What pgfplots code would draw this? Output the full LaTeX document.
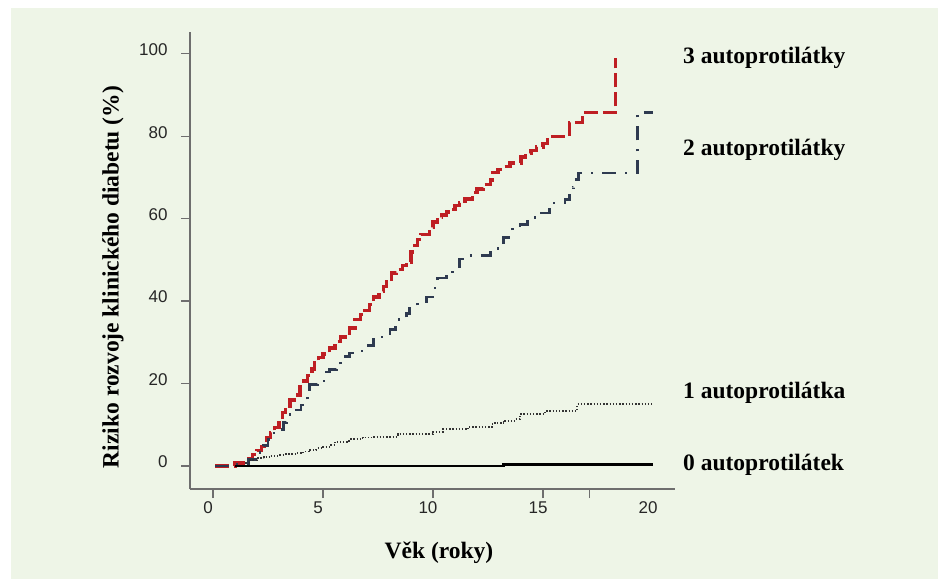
\documentclass[border=0pt]{standalone}
\usepackage{pgfplots}
\pgfplotsset{compat=1.18}
\usepackage{fontspec}
\setmainfont{Liberation Serif}
\newfontfamily\sansf{Liberation Sans}

\definecolor{panel}{RGB}{238,245,231}
\definecolor{redline}{RGB}{190,30,35}
\definecolor{slateline}{RGB}{46,58,80}
\definecolor{axisgray}{RGB}{110,110,110}

\begin{document}
\begin{tikzpicture}[x=1pt,y=1pt]
\path[use as bounding box,fill=white] (0,0) rectangle (941,579);
\fill[panel] (11,0) rectangle (938,571);

\begin{axis}[%
at={(190pt,90pt)},anchor=south west,%
scale only axis,%
width=485pt,height=457pt,%
xmin=-1.045,xmax=21.0,%
ymin=-5.58,ymax=105.3,%
axis x line*=bottom,axis y line*=left,%
axis line style={axisgray,line width=1.3pt,-},%
tick align=outside,%
major tick length=9pt,%
tick style={axisgray,line width=1.3pt},%
xtick={0,5,10,15,17.1},%
xticklabels={0,5,10,15,{}},%
extra x ticks={20},%
extra x tick style={tick style={draw=none}},%
ytick={0,20,40,60,80,100},%
/pgf/number format/assume math mode=true,%
ticklabel style={font=\sansf\fontsize{17}{17}\selectfont,text=black!85},%
xticklabel style={xshift=-5pt},%
yticklabel style={xshift=-10pt,yshift=4pt},%
clip=false]

% 3 autoprotilatky
\addplot[const plot,color=redline,line width=3.3pt,dash pattern=on 14pt off 5pt] coordinates{
(0.1,0) (1.0,0.7) (1.6,1.8) (1.8,2.8) (2.0,3.8) (2.2,4.8) (2.45,7) (2.6,8.2)
(2.8,9.3) (3.0,10.5) (3.15,13) (3.3,14.5) (3.5,16) (3.7,17.2) (3.95,19.2)
(4.1,20.6) (4.3,22) (4.5,23.5) (4.6,25) (4.8,26.3) (5.0,27.2) (5.3,28.6)
(5.55,30.2) (5.8,31.3) (6.0,32.3) (6.2,33.5) (6.45,35.5) (6.7,36.8) (6.9,37.8)
(7.1,39.2) (7.3,41) (7.55,42.3) (7.75,43.5) (7.9,44.7) (8.1,46.8) (8.35,47.7)
(8.6,48.7) (8.8,49.5) (9.0,51.9) (9.15,53.5) (9.3,55) (9.45,56.2) (9.85,57.8)
(10.0,59.2) (10.2,60.3) (10.4,60.9) (10.6,61.6) (10.85,62.3) (11.0,63.2)
(11.2,63.8) (11.45,64.8) (11.8,66.3) (12.0,67.2) (12.3,68.3) (12.6,69.4)
(12.7,71.2) (12.95,72) (13.2,72.7) (13.5,73.5) (14.0,75) (14.2,75.8)
(14.45,76.5) (14.7,77.4) (15.0,78.3) (15.2,79.9) (16.2,83.3) (16.8,85.7)
(18.3,99)
};

% 2 autoprotilatky
\addplot[const plot,color=slateline,line width=2.8pt,dash pattern=on 14pt off 9pt on 2pt off 9pt] coordinates{
(0.1,0) (1.0,0.5) (1.6,1.5) (2.0,3.2) (2.3,5) (2.5,6.5) (2.7,8) (2.9,8.8)
(3.2,10.5) (3.35,12.4) (3.7,13.6) (4.0,14.8) (4.3,17) (4.4,19.7) (4.75,20.4)
(5.05,22.8) (5.3,23.5) (5.6,24.2) (5.8,25.2) (6.0,26.5) (6.2,27.4) (6.6,27.9)
(6.9,28.6) (7.05,29.3) (7.3,31.3) (7.8,31.8) (8.05,33.2) (8.3,34.5) (8.4,35.5)
(8.8,37) (8.95,38.3) (9.3,39.8) (9.7,41) (10.0,43.2) (10.2,45.6) (10.6,46.4)
(10.9,48.3) (11.2,50.2) (11.5,51) (12.6,51.8) (12.95,52.9) (13.2,55.5)
(13.6,57.8) (13.95,58.5) (14.3,60.2) (14.8,61.4) (15.3,62.5) (15.45,63.8)
(16.0,64.6) (16.2,67.5) (16.4,69.5) (16.6,71.1) (19.3,85.7) (20.0,85.7)
};

% 1 autoprotilatka
\addplot[const plot,color=black!80,line width=1.8pt,dash pattern=on 1.4pt off 1.8pt] coordinates{
(1.2,0) (1.5,0.8) (1.7,1.5) (2.0,1.9) (2.3,2.2) (2.6,2.5) (3.05,2.7) (3.3,2.9)
(3.8,3.1) (4.1,3.5) (4.4,3.9) (4.7,4.3) (5.0,4.7) (5.3,5.1) (5.55,5.9)
(6.2,6.5) (6.8,6.9) (7.3,7.1) (8.4,7.7) (10.0,8.3) (10.45,8.9) (11.6,9.5)
(12.7,10.2) (12.8,10.5) (13.2,11) (13.7,11.4) (13.95,12.6) (15.1,13.3)
(16.55,15) (19.95,15)
};

% 0 autoprotilatek
\addplot[const plot,color=black,line width=2.2pt] coordinates{
(1.0,0) (13.2,0.35) (20.0,0.35)
};

\end{axis}

\begin{scope}[every node/.style={font=\bfseries\fontsize{23.5}{24}\selectfont,inner sep=0pt}]
\node[anchor=base west] at (683,515) {3 autoprotilátky};
\node[anchor=base west] at (683,423) {2 autoprotilátky};
\node[anchor=base west] at (683,181) {1 autoprotilátka};
\node[anchor=base west] at (683,109) {0 autoprotilátek};
\node[anchor=base] at (439,21) {Věk (roky)};
\node[rotate=90,anchor=center] at (113,302) {Riziko rozvoje klinického diabetu (\%)};
\end{scope}
\end{tikzpicture}
\end{document}
